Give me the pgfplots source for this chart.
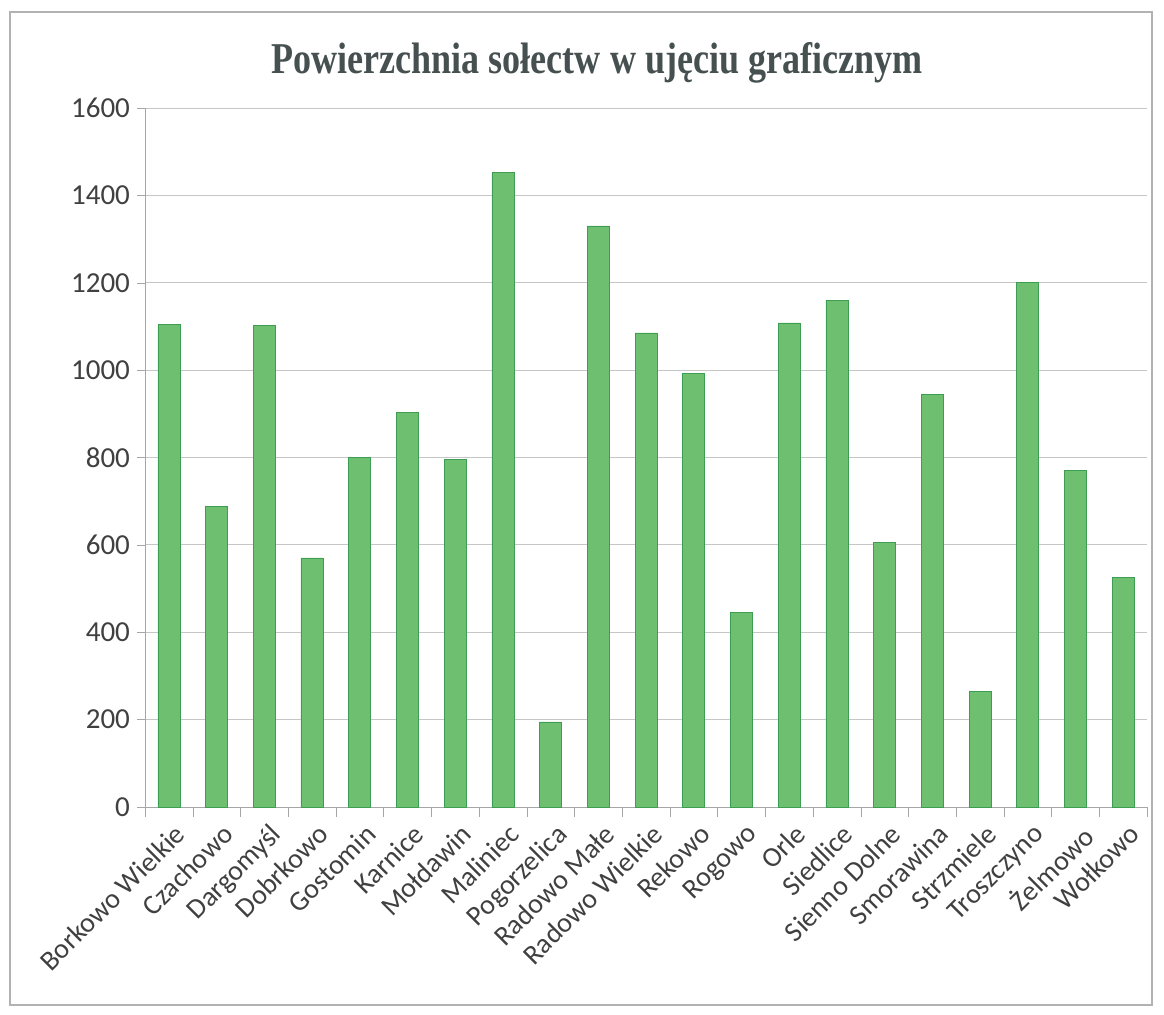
\documentclass[border=0pt]{standalone}
\usepackage{fontspec}
\setmainfont{Carlito}
\newfontfamily\titlefont[FakeStretch=0.82]{Liberation Serif}
\usepackage{pgfplots}
\pgfplotsset{compat=1.18}
\definecolor{barfill}{RGB}{110,192,112}
\definecolor{baredge}{RGB}{60,158,82}
\definecolor{txt}{RGB}{64,64,64}
\definecolor{titlec}{RGB}{70,80,80}
\begin{document}
\begin{tikzpicture}[x=1pt,y=1pt]
\useasboundingbox (-72.5,-103.5) rectangle (509.5,403.5);
\draw[gray!60,line width=0.6pt] (-67.5,-99) rectangle (503.5,397.5);
\node[font=\titlefont\bfseries\fontsize{22}{26}\selectfont,text=titlec] at (226,372) {Powierzchnia sołectw w ujęciu graficznym};
\begin{axis}[
  at={(0,0)}, anchor=south west,
  scale only axis, width=501pt, height=349.5pt,
  xmin=-0.5, xmax=20.5, ymin=0, ymax=1600,
  ytick={0,200,...,1600},
  xtick={0,...,20},
  xticklabels={Borkowo Wielkie,Czachowo,Dargomyśl,Dobrkowo,Gostomin,Karnice,Mołdawin,Maliniec,Pogorzelica,Radowo Małe,Radowo Wielkie,Rekowo,Rogowo,Orle,Siedlice,Sienno Dolne,Smorawina,Strzmiele,Troszczyno,Żelmowo,Wołkowo},
  x tick label style={rotate=45,anchor=north east,font=\fontsize{14}{16}\selectfont,text=txt,inner sep=1pt, yshift=-3pt},
  y tick label style={font=\fontsize{14.5}{16}\selectfont,text=txt},
  /pgf/number format/assume math mode=true,
  /pgf/number format/1000 sep={},
  major x tick style={draw=none},
  minor xtick={-0.5,0.5,...,20.5},
  minor x tick style={gray!70},
  minor tick length=5pt,
  major y tick style={gray!70},
  major tick length=4pt,
  tick align=outside,
  xtick pos=bottom, ytick pos=left,
  axis x line*=bottom, axis y line*=left,
  axis line style={gray!70,-},
  ymajorgrids, grid style={gray!45,line width=0.5pt},
  ybar, bar width=11pt,
  clip=false,
]
\addplot[fill=barfill, draw=baredge, line width=0.3pt] coordinates {
(0,1105) (1,688) (2,1102) (3,570) (4,800) (5,903) (6,795) (7,1452) (8,195) (9,1330)
(10,1085) (11,992) (12,445) (13,1108) (14,1160) (15,605) (16,945) (17,265) (18,1200) (19,770) (20,525)
};
\end{axis}
\end{tikzpicture}
\end{document}
